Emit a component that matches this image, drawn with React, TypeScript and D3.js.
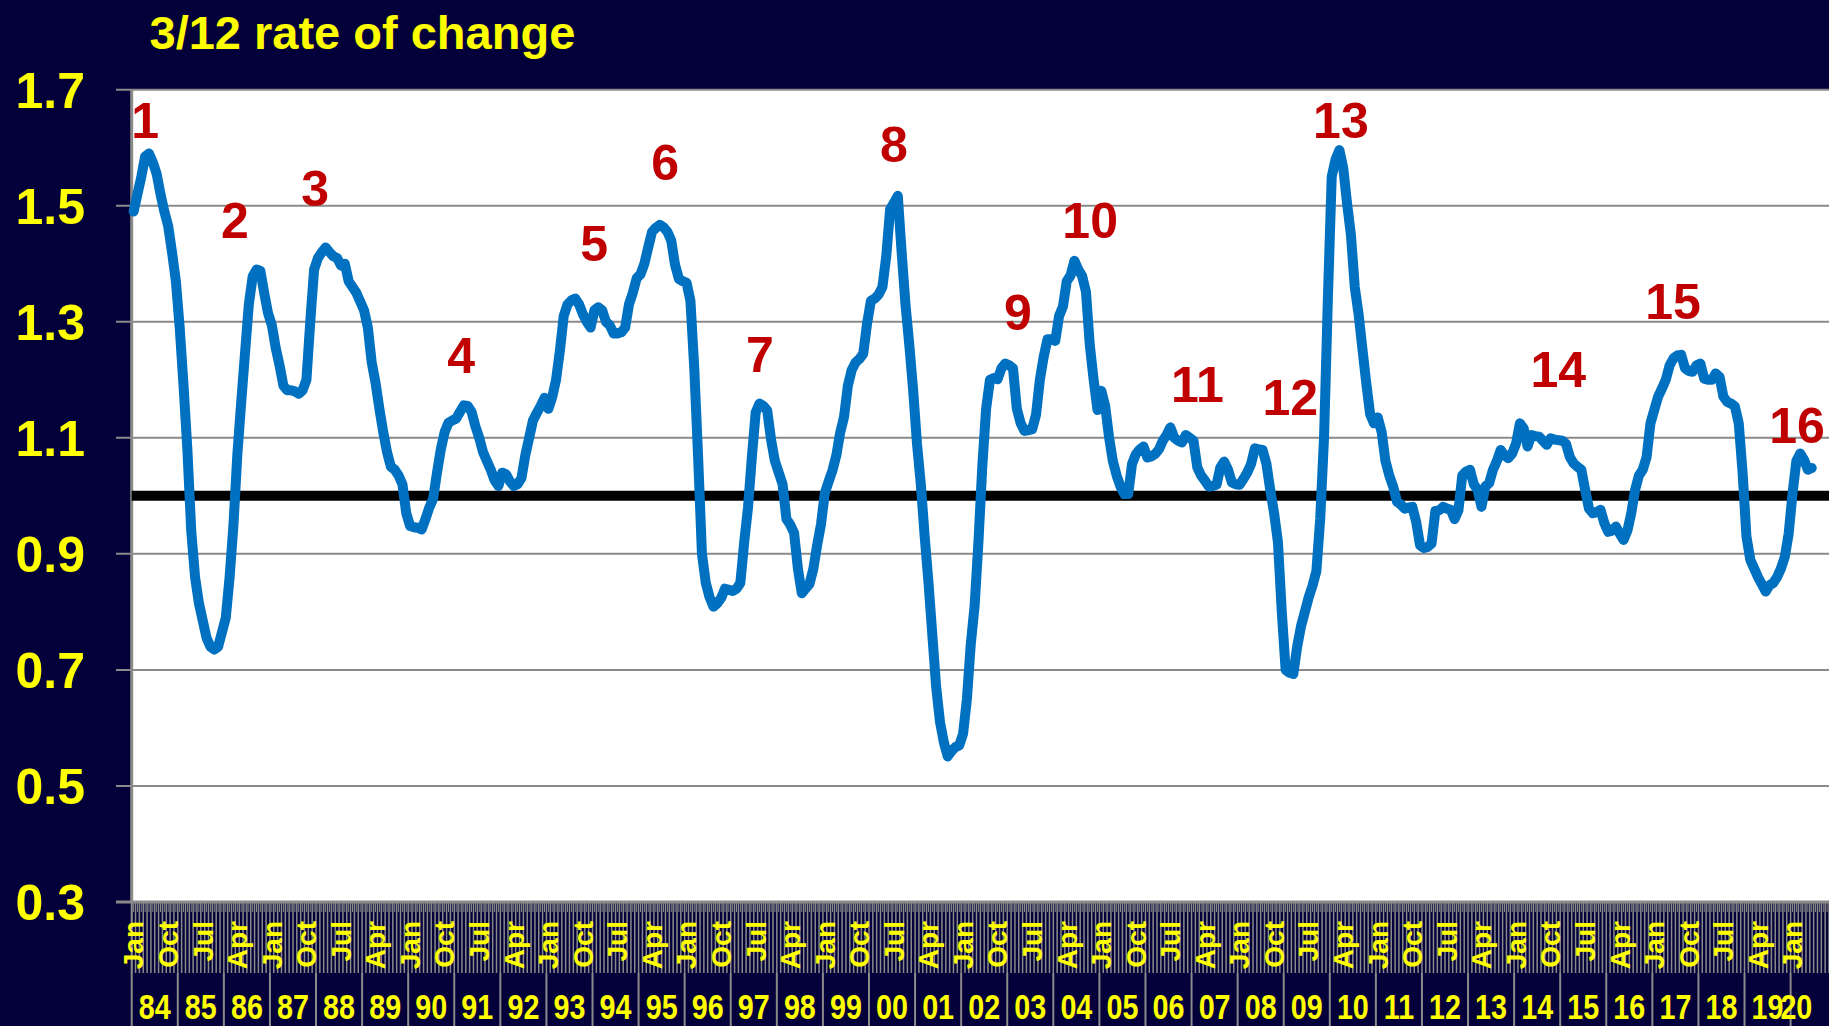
import React from 'react';
import * as d3 from 'd3';

// chart values
const chartTitle = '3/12 rate of change';
const startYear = 1984;
const axisMonths = 442; // Jan 1984 .. Oct 2020 category slots
const lastYearLabelMonths = 3; // the "20" group label only spans Jan-Mar

// monthly 3/12 rate of change, Jan 1984 onwards
const rateValues = [
  1.49, 1.52, 1.55, 1.585, 1.59, 1.575, 1.555, 1.52, 1.49, 1.465, 1.42, 1.37, // 84
  1.29, 1.19, 1.08, 0.94, 0.86, 0.815, 0.785, 0.755, 0.74, 0.735, 0.74, 0.765, // 85
  0.79, 0.86, 0.95, 1.07, 1.16, 1.245, 1.33, 1.378, 1.39, 1.388, 1.35, 1.315, // 86
  1.294, 1.255, 1.225, 1.19, 1.182, 1.182, 1.18, 1.176, 1.182, 1.2, 1.3, 1.39, // 87
  1.41, 1.42, 1.428, 1.42, 1.413, 1.41, 1.397, 1.4, 1.37, 1.36, 1.35, 1.335, // 88
  1.32, 1.29, 1.23, 1.195, 1.15, 1.11, 1.075, 1.05, 1.045, 1.035, 1.02, 0.97, // 89
  0.948, 0.946, 0.945, 0.942, 0.96, 0.98, 0.995, 1.04, 1.08, 1.11, 1.126, 1.13, // 90
  1.133, 1.145, 1.156, 1.155, 1.145, 1.12, 1.1, 1.075, 1.06, 1.045, 1.027, 1.017, // 91
  1.04, 1.037, 1.025, 1.017, 1.02, 1.031, 1.07, 1.1, 1.13, 1.143, 1.155, 1.169, // 92
  1.15, 1.17, 1.2, 1.25, 1.31, 1.33, 1.337, 1.34, 1.33, 1.313, 1.3, 1.29, // 93
  1.32, 1.325, 1.32, 1.3, 1.294, 1.28, 1.28, 1.282, 1.29, 1.33, 1.35, 1.375, // 94
  1.382, 1.4, 1.428, 1.455, 1.462, 1.467, 1.463, 1.455, 1.44, 1.398, 1.374, 1.37, // 95
  1.367, 1.336, 1.22, 1.067, 0.9, 0.85, 0.825, 0.809, 0.815, 0.824, 0.84, 0.838, // 96
  0.836, 0.84, 0.85, 0.92, 0.98, 1.067, 1.144, 1.159, 1.155, 1.147, 1.097, 1.06, // 97
  1.04, 1.02, 0.96, 0.95, 0.936, 0.874, 0.832, 0.84, 0.848, 0.874, 0.915, 0.951, // 98
  1.005, 1.025, 1.044, 1.07, 1.109, 1.136, 1.19, 1.217, 1.23, 1.236, 1.245, 1.297, // 99
  1.336, 1.34, 1.347, 1.36, 1.413, 1.494, 1.505, 1.517, 1.42, 1.33, 1.26, 1.182, // 00
  1.09, 1.02, 0.93, 0.85, 0.76, 0.67, 0.61, 0.575, 0.551, 0.56, 0.567, 0.57, // 01
  0.59, 0.65, 0.744, 0.81, 0.92, 1.05, 1.15, 1.2, 1.203, 1.201, 1.22, 1.228, // 02
  1.225, 1.22, 1.15, 1.125, 1.112, 1.113, 1.115, 1.14, 1.2, 1.24, 1.27, 1.27, // 03
  1.267, 1.31, 1.326, 1.37, 1.38, 1.405, 1.39, 1.379, 1.352, 1.26, 1.2, 1.148, // 04
  1.181, 1.155, 1.102, 1.06, 1.035, 1.016, 1.003, 1.003, 1.055, 1.072, 1.08, 1.085, // 05
  1.066, 1.068, 1.072, 1.08, 1.095, 1.105, 1.118, 1.1, 1.095, 1.092, 1.105, 1.1, // 06
  1.095, 1.049, 1.035, 1.026, 1.016, 1.017, 1.019, 1.049, 1.059, 1.045, 1.023, 1.02, // 07
  1.019, 1.029, 1.04, 1.055, 1.082, 1.08, 1.079, 1.055, 1.01, 0.97, 0.92, 0.8, // 08
  0.7, 0.695, 0.693, 0.74, 0.775, 0.8, 0.825, 0.845, 0.87, 0.96, 1.1, 1.34, // 09
  1.55, 1.58, 1.596, 1.565, 1.504, 1.45, 1.36, 1.313, 1.253, 1.194, 1.141, 1.125, // 10
  1.135, 1.11, 1.06, 1.035, 1.016, 0.99, 0.985, 0.978, 0.98, 0.981, 0.955, 0.915, // 11
  0.91, 0.912, 0.918, 0.974, 0.975, 0.981, 0.978, 0.976, 0.96, 0.975, 1.035, 1.042, // 12
  1.045, 1.02, 1.01, 0.981, 1.016, 1.022, 1.045, 1.06, 1.079, 1.07, 1.065, 1.073, // 13
  1.09, 1.125, 1.116, 1.085, 1.105, 1.103, 1.102, 1.095, 1.088, 1.099, 1.097, 1.096, // 14
  1.095, 1.09, 1.067, 1.056, 1.05, 1.045, 1.01, 0.978, 0.97, 0.972, 0.976, 0.953, // 15
  0.938, 0.94, 0.947, 0.935, 0.924, 0.94, 0.97, 1.01, 1.035, 1.045, 1.067, 1.125, // 16
  1.148, 1.171, 1.185, 1.2, 1.225, 1.237, 1.242, 1.243, 1.22, 1.215, 1.214, 1.225, // 17
  1.228, 1.202, 1.2, 1.2, 1.211, 1.205, 1.171, 1.162, 1.159, 1.154, 1.125, 1.04, // 18
  0.93, 0.89, 0.875, 0.86, 0.848, 0.835, 0.846, 0.85, 0.86, 0.875, 0.895, 0.935, // 19
  1.004, 1.06, 1.073, 1.062, 1.045, 1.048, // 20
];

const yTicks = [0.3, 0.5, 0.7, 0.9, 1.1, 1.3, 1.5, 1.7];
const referenceLevel = 1.0;

const monthNames = ['Jan', 'Feb', 'Mar', 'Apr', 'May', 'Jun', 'Jul', 'Aug', 'Sep', 'Oct', 'Nov', 'Dec'];
const monthLabelStep = 9;
const yearLabels = d3.range(startYear, 2021).map((y) => String(y % 100).padStart(2, '0'));

// numbered cycle labels: text, month index, value (baseline)
const cycleLabels = ['1', '2', '3', '4', '5', '6', '7', '8', '9', '10', '11', '12', '13', '14', '15', '16'];
const cycleMonths = [3.5, 26.9, 47.8, 85.8, 120.4, 138.9, 163.6, 198.5, 230.8, 249.6, 277.5, 301.7, 314.9, 371.5, 401.4, 433.7];
const cycleValues = [1.617, 1.444, 1.5, 1.212, 1.405, 1.544, 1.213, 1.576, 1.286, 1.444, 1.162, 1.139, 1.617, 1.188, 1.305, 1.091];

const W = 1829;
const H = 1026;
const plot = { left: 131.7, right: 1829, top: 89.7, bottom: 902 };
const monthRowBottom = 973;

const NAVY = '#04003A';
const YELLOW = '#FFFF00';
const GRID = '#8a8a8a';
const FONT = '"Liberation Sans", Arial, sans-serif';

export default function App() {
  const x = d3.scaleLinear().domain([0, axisMonths]).range([plot.left, plot.right]);
  const y = d3.scaleLinear().domain([0.3, 1.7]).range([plot.bottom, plot.top]);

  const line = d3
    .line<number>()
    .x((_, i) => x(i + 0.5))
    .y((d) => y(d));

  const labelledMonths = (yearLabels.length - 1) * 12 + lastYearLabelMonths;
  const monthTicks = d3.range(0, labelledMonths, monthLabelStep);

  return (
    <svg
      width={W}
      height={H}
      style={{ position: 'absolute', left: 0, top: 0, display: 'block' }}
      fontFamily={FONT}
      fontWeight="bold"
    >
      <rect width={W} height={H} fill={NAVY} />
      <rect x={plot.left} y={plot.top} width={plot.right - plot.left} height={plot.bottom - plot.top} fill="#fff" />

      {/* gridlines + y ticks */}
      {yTicks.map((t) => (
        <line key={t} x1={116} x2={plot.right} y1={y(t)} y2={y(t)} stroke={GRID} strokeWidth={2} />
      ))}
      <line x1={plot.left} x2={plot.left} y1={plot.top} y2={plot.bottom} stroke={GRID} strokeWidth={3} />

      {/* month category stripes */}
      {d3.range(0, axisMonths + 1).map((k) => (
        <line key={'s' + k} x1={x(k)} x2={x(k)} y1={plot.bottom} y2={monthRowBottom} stroke={GRID} strokeWidth={1.5} />
      ))}
      {d3.range(0, axisMonths).map((k) => (
        <line key={'t' + k} x1={x(k + 0.5)} x2={x(k + 0.5)} y1={plot.bottom} y2={plot.bottom + 10} stroke={GRID} strokeWidth={1} />
      ))}
      {/* year dividers */}
      {yearLabels.map((_, i) => (
        <line
          key={'y' + i}
          x1={x(i * 12)}
          x2={x(i * 12)}
          y1={i === 0 ? plot.bottom : monthRowBottom}
          y2={H}
          stroke={GRID}
          strokeWidth={2}
        />
      ))}
      <line x1={116} x2={plot.right} y1={plot.bottom} y2={plot.bottom} stroke={GRID} strokeWidth={3} />

      {/* reference line at 1.0 */}
      <line x1={plot.left} x2={plot.right} y1={y(referenceLevel)} y2={y(referenceLevel)} stroke="#000" strokeWidth={10} />

      <path d={line(rateValues) ?? ''} fill="none" stroke="#0070C0" strokeWidth={10} strokeLinejoin="round" strokeLinecap="round" />

      {cycleLabels.map((txt, i) => (
        <text key={txt} x={x(cycleMonths[i])} y={y(cycleValues[i])} textAnchor="middle" fontSize={50} fill="#C00000">
          {txt}
        </text>
      ))}

      {/* y axis labels */}
      {yTicks.map((t) => (
        <text key={'l' + t} x={85} y={y(t) + 18} textAnchor="end" fontSize={50} fill={YELLOW}>
          {t.toFixed(1)}
        </text>
      ))}

      {/* month labels */}
      {monthTicks.map((k) => (
        <text
          key={'m' + k}
          transform={`translate(${x(k + 0.5)},921) rotate(-90)`}
          dy="0.35em"
          textAnchor="end"
          fontSize={28}
          fill={YELLOW}
        >
          {monthNames[k % 12]}
        </text>
      ))}

      {/* year labels */}
      {yearLabels.map((lab, i) => {
        const span = i === yearLabels.length - 1 ? lastYearLabelMonths : 12;
        return (
          <text
            key={'yl' + lab}
            transform={`translate(${x(i * 12 + span / 2)},1019) scale(0.82,1)`}
            textAnchor="middle"
            fontSize={35}
            fill={YELLOW}
          >
            {lab}
          </text>
        );
      })}

      <text x={149.5} y={49} fontSize={47} fill={YELLOW}>
        {chartTitle}
      </text>
    </svg>
  );
}
